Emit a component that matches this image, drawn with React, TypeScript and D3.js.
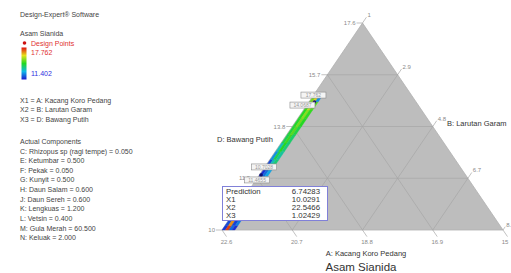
import React from "react";
import * as d3 from "d3";

// ---- data ----
const leftTickLabels = ["10", "11.9", "13.8", "15.7", "17.6"]; // D: Bawang Putih (apex = max)
const rightTickLabels = ["1", "2.9", "4.8", "6.7", "8.6"]; // B: Larutan Garam (apex -> bottom-right)
const bottomTickLabels = ["22.6", "20.7", "18.8", "16.9", "15"]; // A: Kacang Koro Pedang
const legendLines = [
  "X1 = A: Kacang Koro Pedang",
  "X2 = B: Larutan Garam",
  "X3 = D: Bawang Putih",
];
const actualComponents = [
  "C: Rhizopus sp (ragi tempe) = 0.050",
  "E: Ketumbar = 0.500",
  "F: Pekak = 0.050",
  "G: Kunyit = 0.500",
  "H: Daun Salam = 0.600",
  "J: Daun Sereh = 0.600",
  "K: Lengkuas = 1.200",
  "L: Vetsin = 0.400",
  "M: Gula Merah = 60.500",
  "N: Keluak = 2.000",
];
const responseMin = 11.402;
const responseMax = 17.762;
// band along left edge: rows in pseudo D, columns in pseudo B
const bandD = [0.26, 0.3, 0.34, 0.38, 0.42, 0.46, 0.5, 0.54, 0.58, 0.62, 0.645];
const bandB = [0.002, 0.012, 0.022, 0.033];
const bandValues = [
  [11.6, 12.2, 12.8],
  [11.9, 13.4, 13.9],
  [12.6, 14.2, 13.6],
  [13.4, 14.6, 13.9],
  [14.2, 14.8, 14.0],
  [14.4, 15.0, 14.3],
  [14.5, 15.2, 14.6],
  [14.6, 15.4, 14.7],
  [14.8, 15.8, 15.0],
  [15.2, 16.3, 12.6],
];
const cornerD = [0.0, 0.022, 0.045];
const cornerB = [0.0, 0.012, 0.024, 0.036, 0.046];
const cornerValues = [
  [11.7, 17.4, 12.2, 11.6],
  [11.9, 16.8, 11.8, 12.4],
];
const designPointD = [0.618, 0.266];
const designPointB = [0.02, 0.006];
const pointLabels = ["17.762", "14.0687", "10.7028", "11.4655"];
const predictionRows = [
  ["Prediction", "6.74283"],
  ["X1", "10.0291"],
  ["X2", "22.5466"],
  ["X3", "1.02429"],
];

const FONT = "'Liberation Sans', Arial, sans-serif";

export default function App() {
  const W = 511,
    H = 273;
  const BLx = 222,
    BRx = 503,
    baseY = 230,
    apexY = 23;
  const yScale = d3.scaleLinear().domain([0, 1]).range([baseY, apexY]);
  const xBase = d3.scaleLinear().domain([0, 1]).range([BLx, BRx]);
  const px = (d: number, b: number): [number, number] => [xBase(b + d / 2), yScale(d)];
  const apex = px(1, 0),
    bl = px(0, 0),
    br = px(0, 1);

  const color = d3
    .scaleLinear<string>()
    .domain(d3.range(5).map((i) => responseMin + ((responseMax - responseMin) * i) / 4))
    .range(["#1a1ad0", "#10b8e8", "#22d822", "#e6e21c", "#e01010"])
    .clamp(true);

  const line = d3.line();
  const fracs = [0.25, 0.5, 0.75];

  const grid: [number, number][][] = [];
  fracs.forEach((f) => {
    grid.push([px(f, 0), px(f, 1 - f)]);
    grid.push([px(0, f), px(1 - f, f)]);
    grid.push([px(0, f), px(f, 0)]);
  });

  const tickFr = [0, 0.25, 0.5, 0.75, 1];
  const leftDir = [apex[0] - bl[0], apex[1] - bl[1]];
  const ll = Math.hypot(leftDir[0], leftDir[1]);
  const upRight = [leftDir[0] / ll, leftDir[1] / ll];
  const rDir = [br[0] - apex[0], br[1] - apex[1]];
  const rl = Math.hypot(rDir[0], rDir[1]);
  const downRight = [rDir[0] / rl, rDir[1] / rl];

  const cell = (D: number[], B: number[], i: number, j: number) => {
    const pts = [px(D[i], B[j]), px(D[i], B[j + 1]), px(D[i + 1], B[j + 1]), px(D[i + 1], B[j])];
    return line([...pts, pts[0]]) as string;
  };

  const dots = designPointD.map((d, i) => px(d, designPointB[i]));
  const labelOffsets = [
    [dots[0], -1, -7],
    [dots[0], -12, 3],
    [dots[1], 3, -8],
    [dots[1], -4, 5],
  ] as [[number, number], number, number][];

  const tickStyle = { fontSize: 6, fill: "#8a8a8a", fontFamily: FONT };

  return (
    <svg width={W} height={H} style={{ position: "absolute", left: 0, top: 0, background: "#fff" }}>
      <defs>
        <linearGradient id="lg" x1="0" y1="0" x2="0" y2="1">
          {d3.range(5).map((i) => (
            <stop key={i} offset={i / 4} stopColor={color(responseMax - ((responseMax - responseMin) * i) / 4)} />
          ))}
        </linearGradient>
      </defs>
      <g fontFamily={FONT} fontSize={7} fill="#444">
        <text x={20} y={16.5}>Design-Expert® Software</text>
        <text x={20} y={35.5}>Asam Sianida</text>
        <circle cx={24.5} cy={43} r={1.8} fill="#cc1010" />
        <text x={31} y={45.5} fill="#e03030">Design Points</text>
        <rect x={21.5} y={47.5} width={5} height={32} fill="url(#lg)" />
        <text x={31} y={54.5} fill="#e03030">{responseMax.toFixed(3)}</text>
        <text x={31} y={75.5} fill="#3030e0">{responseMin.toFixed(3)}</text>
        {legendLines.map((t, i) => (
          <text key={t} x={20} y={102.5 + i * 9.5}>{t}</text>
        ))}
        <text x={20} y={143.5}>Actual Components</text>
        {actualComponents.map((t, i) => (
          <text key={t} x={20} y={153.5 + i * 9.65}>{t}</text>
        ))}
      </g>

      <path d={line([apex, bl, br, apex]) as string} fill="#bdbdbd" stroke="#b0b0b0" strokeWidth={0.8} />
      {grid.map((g, i) => (
        <path key={i} d={line(g) as string} stroke="#a6a6a6" strokeWidth={0.7} fill="none" />
      ))}

      {bandValues.map((row, i) =>
        row.map((v, j) => <path key={`b${i}-${j}`} d={cell(bandD, bandB, i, j)} fill={color(v)} stroke={color(v)} strokeWidth={0.3} />)
      )}
      {cornerValues.map((row, i) =>
        row.map((v, j) => <path key={`c${i}-${j}`} d={cell(cornerD, cornerB, i, j)} fill={color(v)} stroke={color(v)} strokeWidth={0.3} />)
      )}

      {tickFr.map((f, i) => {
        const p = px(f, 0);
        return (
          <g key={`l${i}`}>
            <line x1={p[0] - 6} y1={p[1]} x2={p[0]} y2={p[1]} stroke="#999" strokeWidth={0.6} />
            <text x={p[0] - 7} y={p[1] + 2} textAnchor="end" {...tickStyle}>{leftTickLabels[i]}</text>
          </g>
        );
      })}
      {tickFr.map((f, i) => {
        const p = px(1 - f, f);
        const len = i === 4 ? 4 : 7;
        const e = [p[0] + upRight[0] * len, p[1] + upRight[1] * len];
        return (
          <g key={`r${i}`}>
            <line x1={p[0]} y1={p[1]} x2={e[0]} y2={e[1]} stroke="#999" strokeWidth={0.6} />
            <text x={e[0] + 1} y={e[1]} {...tickStyle}>{rightTickLabels[i]}</text>
          </g>
        );
      })}
      {tickFr.map((f, i) => {
        const p = px(0, f);
        const e = [p[0] + downRight[0] * 8, p[1] + downRight[1] * 8];
        return (
          <g key={`bt${i}`}>
            <line x1={p[0]} y1={p[1]} x2={e[0]} y2={e[1]} stroke="#999" strokeWidth={0.6} />
            <text x={Math.min(e[0], 505)} y={e[1] + 7} textAnchor="middle" {...tickStyle}>{bottomTickLabels[i]}</text>
          </g>
        );
      })}

      {dots.map((p, i) => (
        <circle key={`d${i}`} cx={p[0]} cy={p[1]} r={1.8} fill="#101070" />
      ))}
      {labelOffsets.map(([p, dx, dy], i) => {
        const cx = p[0] + dx,
          cy = p[1] + dy;
        return (
          <g key={`lb${i}`}>
            <rect x={cx - 12.5} y={cy - 3} width={25} height={6} fill="#f4f4f4" stroke="#8a8a8a" strokeWidth={0.6} />
            <text x={cx} y={cy + 1.8} textAnchor="middle" fontSize={5} fill="#999" fontFamily={FONT}>{pointLabels[i]}</text>
          </g>
        );
      })}

      <rect x={222.5} y={186.5} width={105} height={34} fill="#fff" stroke="#8080d8" strokeWidth={1} />
      {predictionRows.map((r, i) => (
        <g key={r[0]} fontFamily={FONT} fontSize={7.8} fill="#333">
          <text x={226} y={194 + i * 8}>{r[0]}</text>
          <text x={320} y={194 + i * 8} textAnchor="end">{r[1]}</text>
        </g>
      ))}

      <g fontFamily={FONT} fill="#333">
        <text x={217} y={141.5} fontSize={7.5}>D: Bawang Putih</text>
        <text x={447} y={125.5} fontSize={7.5}>B: Larutan Garam</text>
        <text x={366} y={255.5} fontSize={7.5} textAnchor="middle">A: Kacang Koro Pedang</text>
        <text x={361} y={270.5} fontSize={11.5} textAnchor="middle">Asam Sianida</text>
      </g>
    </svg>
  );
}
